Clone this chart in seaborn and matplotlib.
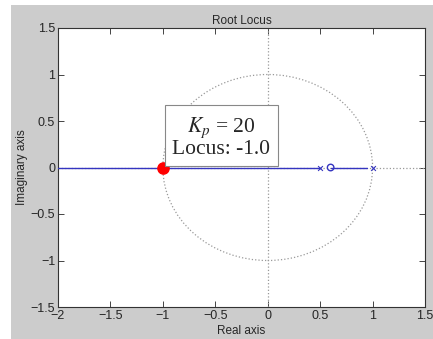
import numpy as np
import pandas as pd
import matplotlib
matplotlib.use("Agg")
import matplotlib.pyplot as plt
from matplotlib.patches import Rectangle, Circle
import seaborn as sns

# root locus data
branch1_re = [-2.0, 0.5]
branch1_im = [0.0, 0.0]
branch2_re = [0.6, 0.95]
branch2_im = [0.0, 0.0]
poles_re = [0.5, 1.0]
poles_im = [0.0, 0.0]
zeros_re = [0.6]
zeros_im = [0.0]
point_re = [-1.0]
point_im = [0.0]
kp = 20
xticks = [-2, -1.5, -1, -0.5, 0, 0.5, 1, 1.5]
yticks = [-1.5, -1, -0.5, 0, 0.5, 1, 1.5]

sns.set_style("ticks")
plt.rcParams["font.family"] = ["Liberation Sans", "DejaVu Sans"]
plt.rcParams["mathtext.fontset"] = "stix"

fig = plt.figure(figsize=(4.33, 3.39), dpi=100, facecolor="white")
fig.patches.append(Rectangle((11 / 433, 0), 1, 1 - 5 / 339, transform=fig.transFigure,
                             facecolor="#cccccc", edgecolor="none", zorder=-10))
ax = fig.add_axes([58 / 433, 32 / 339, 367 / 433, 279 / 339])
ax.set_facecolor("white")

# grid lines: axes and unit circle
ax.axhline(0, color="#999999", ls=":", lw=0.9, zorder=1)
ax.axvline(0, color="#999999", ls=":", lw=0.9, zorder=1)
ax.add_patch(Circle((0, 0), 1, fill=False, ec="#999999", ls=":", lw=0.9, zorder=1))

blue = "#3535c0"
sns.lineplot(x=branch1_re, y=branch1_im, color=blue, lw=1.0, ax=ax, zorder=3)
sns.lineplot(x=branch2_re, y=branch2_im, color=blue, lw=1.0, ax=ax, zorder=3)
sns.scatterplot(x=poles_re, y=poles_im, marker="x", color=blue, s=12, linewidth=0.8, ax=ax, zorder=4)
ax.scatter(zeros_re, zeros_im, marker="o", facecolor="none", edgecolor=blue, s=22, linewidth=1.0, zorder=4)
ax.scatter(point_re, point_im, marker="o", color="red", s=65, zorder=5)

ax.text(-0.445, 0.33, f"$K_p$ = {kp}\nLocus: {point_re[0]:.1f}", family="Liberation Serif",
        fontsize=15.5, ha="center", va="center", linespacing=1.0,
        bbox=dict(boxstyle="square,pad=0.35", fc="white", ec="#888888", lw=0.8), zorder=6)

ax.set_xlim(-2, 1.5)
ax.set_ylim(-1.5, 1.5)
ax.set_xticks(xticks)
ax.set_yticks(yticks)
ax.set_xticklabels([f"{t:g}".replace("-", "\u2212") for t in xticks])
ax.set_yticklabels([f"{t:g}".replace("-", "\u2212") for t in yticks])
ax.tick_params(direction="in", top=True, right=True, length=4, width=0.6, labelsize=9, pad=2)
for s in ax.spines.values():
    s.set_linewidth(0.8)
    s.set_color("#333333")
ax.set_title("Root Locus", fontsize=8.5, pad=3)
ax.set_xlabel("Real axis", fontsize=8.5, labelpad=2)
ax.set_ylabel("Imaginary axis", fontsize=8.5, labelpad=2)

fig.savefig("out.png", dpi=100, facecolor=fig.get_facecolor())
